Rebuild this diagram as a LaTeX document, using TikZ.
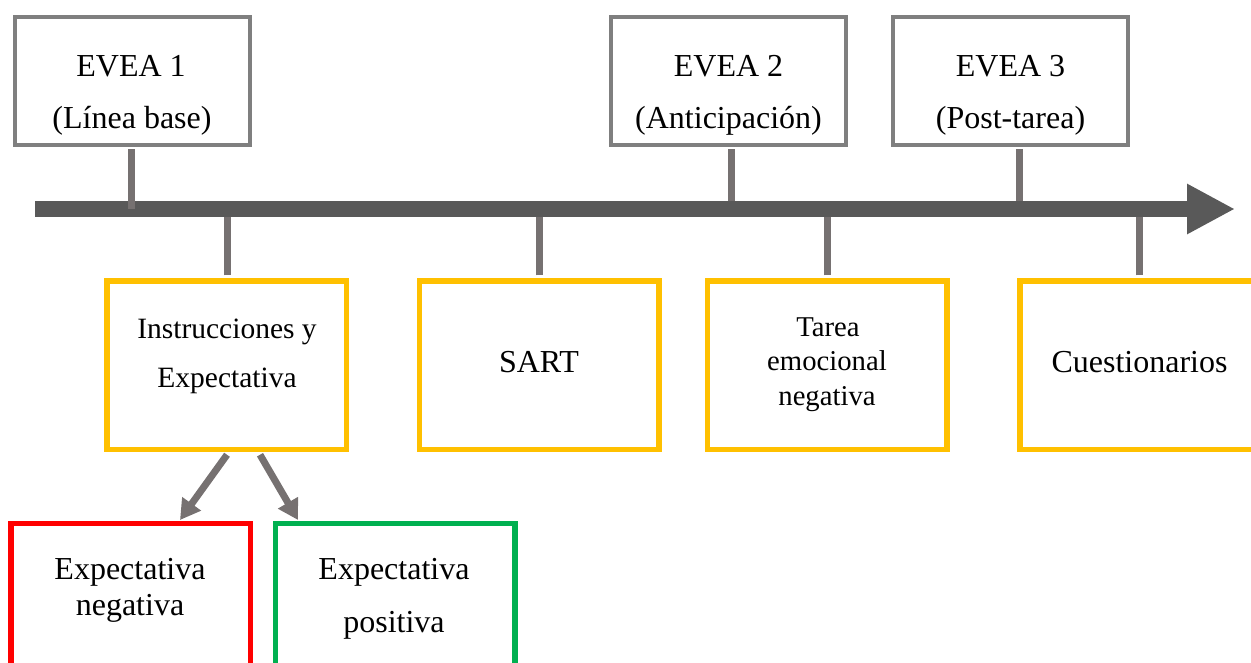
\documentclass[tikz,border=0pt]{standalone}
\usepackage{fontspec}
\setmainfont{Liberation Serif}
\usetikzlibrary{arrows.meta}
\definecolor{boxgray}{HTML}{7F7F7F}
\definecolor{stemgray}{HTML}{767171}
\definecolor{linegray}{HTML}{595959}
\definecolor{ylw}{HTML}{FFC000}
\definecolor{rd}{HTML}{FF0000}
\definecolor{grn}{HTML}{00B050}
\tikzset{
  evbox/.style={draw=boxgray, line width=4pt, minimum width=235pt, minimum height=128pt, inner sep=0pt},
  stbox/.style={draw=ylw, line width=5.5pt, minimum width=239.5pt, minimum height=168.5pt, inner sep=0pt},
  exbox/.style={line width=5.5pt, minimum width=239.5pt, minimum height=170pt, inner sep=0pt, anchor=north},
  big/.style={inner sep=0pt, anchor=base, font=\fontsize{32}{38}\selectfont},
  mid/.style={inner sep=0pt, anchor=base, font=\fontsize{29.5}{35}\selectfont},
  sml/.style={inner sep=0pt, anchor=base, font=\fontsize{28.7}{34}\selectfont},
  stem/.style={draw=stemgray, line width=7pt},
  branch/.style={draw=stemgray, line width=7pt, -{Triangle[length=20pt,width=22pt]}},
  timeline/.style={draw=linegray, line width=16pt, -{Triangle[length=48pt,width=47pt]}}
}
\begin{document}
\begin{tikzpicture}[x=1pt,y=-1pt]
\clip (0,0) rectangle (1251,662);
% timeline
\coordinate (tlA) at (35,209);
\coordinate (tlB) at (1235,209);
\coordinate (tltop) at (0,201);
\coordinate (tlbot) at (0,217);
\draw[timeline] (tlA) -- (tlB);
% upper boxes
\node[evbox] (e1) at (132.5,81) {};
\node[evbox] (e2) at (728.5,81) {};
\node[evbox] (e3) at (1010.5,81) {};
\node[big] (e1a) at (131,76) {EVEA 1};
\node[big] (e1b) at (132,128) {(Línea base)};
\node[big] (e2a) at (728.5,76) {EVEA 2};
\node[big] (e2b) at (728.5,128) {(Anticipación)};
\node[big] (e3a) at (1010.5,76) {EVEA 3};
\node[big] (e3b) at (1010.5,128) {(Post-tarea)};
% upper stems
\draw[stem] ([xshift=-1.5pt,yshift=-2pt]e1.south) -- ([xshift=-1.5pt]e1.south |- tlA);
\draw[stem] ([xshift=2.5pt,yshift=-2pt]e2.south) -- ([xshift=2.5pt]e2.south |- tltop);
\draw[stem] ([xshift=8.5pt,yshift=-2pt]e3.south) -- ([xshift=8.5pt]e3.south |- tltop);
% lower boxes
\node[stbox] (i1) at (226.5,365) {};
\node[stbox] (sart) at (539,365) {};
\node[stbox] (tarea) at (827,365) {};
\node[stbox] (cues) at (1139.5,365) {};
\node[mid] (i1a) at (227,338) {Instrucciones y};
\node[mid] (i1b) at (227,387) {Expectativa};
\node[big] (sarta) at (539,372) {SART};
\node[sml] (ta) at (828,336) {Tarea};
\node[sml] (tb) at (827,370) {emocional};
\node[sml] (tc) at (827,405) {negativa};
\node[big] (cuesa) at (1139.5,372) {Cuestionarios};
% lower stems
\draw[stem] ([xshift=0.5pt,yshift=2.75pt]i1.north) -- ([xshift=0.5pt]i1.north |- tlbot);
\draw[stem] ([yshift=2.75pt]sart.north) -- (sart.north |- tlbot);
\draw[stem] ([yshift=2.75pt]tarea.north) -- (tarea.north |- tlbot);
\draw[stem] ([yshift=2.75pt]cues.north) -- (cues.north |- tlbot);
% expectation boxes
\node[exbox, draw=rd] (neg) at (130.5,520.75) {};
\node[exbox, draw=grn] (pos) at (395,520.75) {};
\node[big] (nega) at (130,579) {Expectativa};
\node[big] (negb) at (130,615) {negativa};
\node[big] (posa) at (394,579) {Expectativa};
\node[big] (posb) at (394,632) {positiva};
% branches
\draw[branch] ([xshift=0.5pt,yshift=-2.75pt]i1.south) -- ([xshift=49.5pt,yshift=0.75pt]neg.north);
\draw[branch] ([xshift=33.5pt,yshift=-2.75pt]i1.south) -- ([xshift=-97pt,yshift=0.75pt]pos.north);
\end{tikzpicture}
\end{document}
